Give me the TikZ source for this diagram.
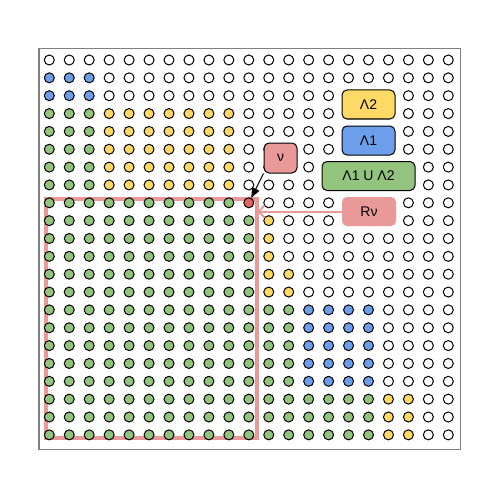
\documentclass[tikz,border=0pt]{standalone}
\usepackage{fontspec}
\setmainfont{Liberation Sans}
\usetikzlibrary{arrows.meta}
\definecolor{cblue}{HTML}{6D9EEB}
\definecolor{cyellow}{HTML}{FFD966}
\definecolor{cgreen}{HTML}{93C47D}
\definecolor{cred}{HTML}{E06666}
\definecolor{cpink}{HTML}{EA9999}
\definecolor{cframe}{HTML}{808080}
\newcommand\pickcol[2]{%
\def\dc{white}%
\ifnum#2=0 \else
  \ifnum#2<3
    \ifnum#1<3 \def\dc{cblue}\fi
  \else
    \ifnum#2<8
      \ifnum#1<3 \def\dc{cgreen}\else \ifnum#1<10 \def\dc{cyellow}\fi \fi
    \else
      \ifnum#2=8
        \ifnum#1<10 \def\dc{cgreen}\else \ifnum#1=10 \def\dc{cred}\fi \fi
      \else
        \ifnum#1<11 \def\dc{cgreen}\else
          \ifnum#2<12
            \ifnum#1=11 \def\dc{cyellow}\fi
          \else
            \ifnum#2<14
              \ifnum#1<13 \def\dc{cyellow}\fi
            \else
              \ifnum#2<19
                \ifnum#1<13 \def\dc{cgreen}\else \ifnum#1<17 \def\dc{cblue}\fi \fi
              \else
                \ifnum#1<17 \def\dc{cgreen}\else \ifnum#1<19 \def\dc{cyellow}\fi \fi
              \fi
            \fi
          \fi
        \fi
      \fi
    \fi
  \fi
\fi}
\begin{document}
\begin{tikzpicture}[x=1pt,y=-1pt,
  dot/.style={circle, draw=black, line width=1pt, minimum size=10pt, inner sep=0pt},
  lbox/.style={draw=black, line width=1pt, rounded corners=5pt, minimum height=29pt, inner sep=0pt,
    font=\fontsize{14}{16}\selectfont},
  pinkrect/.style={draw=cpink, line width=4pt, minimum width=211pt, minimum height=239pt, inner sep=0pt, outer sep=0pt},
  pinkarrow/.style={draw=cpink, line width=2pt, -{Straight Barb[length=6pt,width=12pt]}},
  blackarrow/.style={draw=black, line width=1pt, -{Triangle[length=10pt,width=8pt]}}]
\useasboundingbox (0,0) rectangle (500,500);
\draw[cframe, line width=1.2pt] (39,48.3) rectangle (460.7,449.3);
\node[pinkrect] (R) at (151.5,318.5) {};
\foreach \j in {0,...,21}{
  \foreach \i in {0,...,20}{
    \pickcol{\i}{\j}
    \node[dot, fill=\dc] (d-\i-\j) at ({49.3+19.95*\i},{60+17.85*\j}) {};
  }
}
\node[lbox, fill=cyellow, minimum width=53pt] (L2) at (368.5,104.5) {Λ2};
\node[lbox, fill=cblue, minimum width=53pt] (L1) at (368.5,140.5) {Λ1};
\node[lbox, fill=cgreen, minimum width=93pt] (LU) at (368.5,176) {Λ1 U Λ2};
\node[lbox, draw=none, fill=cpink, minimum width=54pt] (Rv) at (369,211.5) {Rν};
\node[lbox, fill=cpink, minimum width=33pt, minimum height=30pt] (nu) at (280.5,158) {ν};
\draw[pinkarrow] (Rv.west) -- (Rv.west -| R.east);
\draw[blackarrow] (nu.south west) -- (d-10-8);
\end{tikzpicture}
\end{document}
